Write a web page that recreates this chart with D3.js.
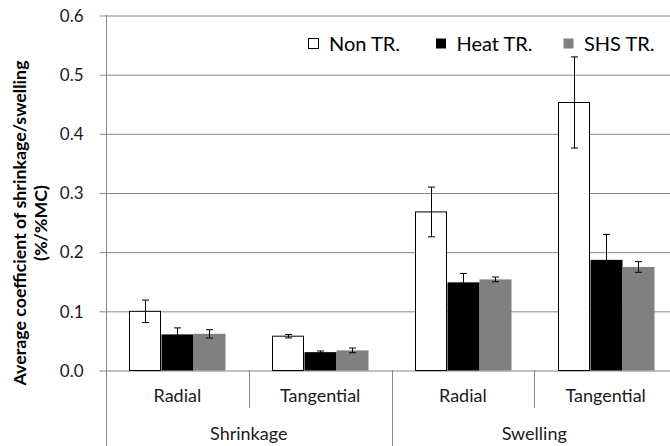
<!DOCTYPE html>
<html>
<head>
<meta charset="utf-8">
<script src="https://cdn.jsdelivr.net/npm/d3@7"></script>
<style>
  html, body { margin: 0; padding: 0; background: #fff; }
  svg { display: block; font-family: Lato, "Open Sans", sans-serif; }
</style>
</head>
<body>
<svg id="chart" width="670" height="446"></svg>
<script>
// Treatment series and the grouped categories
const series = ["Non TR.", "Heat TR.", "SHS TR."];
const groups = ["Shrinkage", "Swelling"];
const directions = ["Radial", "Tangential"];

// Mean coefficient (%/%MC), one array per treatment, order:
// Shrinkage-Radial, Shrinkage-Tangential, Swelling-Radial, Swelling-Tangential
const nonTR  = [0.100, 0.058, 0.268, 0.453];
const heatTR = [0.061, 0.031, 0.149, 0.187];
const shsTR  = [0.062, 0.034, 0.154, 0.175];

// Standard deviation for the error bars, same order
const nonErr  = [0.019, 0.003, 0.042, 0.077];
const heatErr = [0.011, 0.002, 0.015, 0.043];
const shsErr  = [0.007, 0.004, 0.004, 0.009];

const yTicks = [0, 0.1, 0.2, 0.3, 0.4, 0.5, 0.6];
const yTitle = ["Average coefficient of shrinkage/swelling", "(%/%MC)"];

const values = [nonTR, heatTR, shsTR];
const errors = [nonErr, heatErr, shsErr];
const fills = ["#ffffff", "#000000", "#808080"];
const strokes = ["#000000", "none", "none"];
const gridColor = "#868686";

const svg = d3.select("#chart");

// Combined category keys: group|direction
const cats = [];
groups.forEach(g => directions.forEach(d => cats.push(g + "|" + d)));

const plotLeft = 106, plotRight = 677, plotTop = 15, plotBottom = 370;

const y = d3.scaleLinear().domain([0, 0.6]).range([plotBottom, plotTop]);
const x0 = d3.scaleBand().domain(cats).range([plotLeft, plotRight]).padding(0);
const x1 = d3.scaleBand().domain(series).range([0, x0.bandwidth()])
  .paddingInner(0).paddingOuter(0.73);

// Gridlines with short outside tick marks
const yAxis = d3.axisLeft(y).tickValues(yTicks).tickSize(-(670 - plotLeft))
  .tickFormat(d3.format(".1f")).tickPadding(0);
const ga = svg.append("g").attr("transform", `translate(${plotLeft + 0.5},0.5)`)
  .call(yAxis);
ga.select(".domain").remove();
ga.selectAll(".tick line").attr("stroke", gridColor).attr("x1", -7);
ga.selectAll(".tick text")
  .attr("x", -23).attr("dy", "0.34em")
  .attr("font-size", 17).attr("fill", "#1a1a1a")
  .attr("font-family", "Lato, sans-serif");

// Vertical axis line continuing down through the category area
svg.append("line")
  .attr("x1", plotLeft + 0.5).attr("x2", plotLeft + 0.5)
  .attr("y1", plotTop).attr("y2", 446)
  .attr("stroke", gridColor);

// Bars
const barG = svg.append("g");
cats.forEach((c, i) => {
  series.forEach((s, j) => {
    const v = values[j][i];
    const bx = x0(c) + x1(s);
    barG.append("rect")
      .attr("x", Math.round(bx) + 0.5)
      .attr("y", y(v) + 0.5)
      .attr("width", x1.bandwidth() - (strokes[j] === "none" ? 0 : 1))
      .attr("height", y(0) - y(v))
      .attr("fill", fills[j])
      .attr("stroke", strokes[j])
      .attr("stroke-width", 1);
  });
});

// Error bars
const errG = svg.append("g").attr("stroke", "#000").attr("stroke-width", 1);
cats.forEach((c, i) => {
  series.forEach((s, j) => {
    const v = values[j][i], e = errors[j][i];
    const cx = Math.round(x0(c) + x1(s) + x1.bandwidth() / 2) + 0.5;
    const yHi = y(v + e) + 0.5, yLo = y(v - e) + 0.5;
    errG.append("line").attr("x1", cx).attr("x2", cx).attr("y1", yHi).attr("y2", yLo);
    errG.append("line").attr("x1", cx - 3.5).attr("x2", cx + 3.5).attr("y1", yHi).attr("y2", yHi);
    errG.append("line").attr("x1", cx - 3.5).attr("x2", cx + 3.5).attr("y1", yLo).attr("y2", yLo);
  });
});

// Category axis: separators and two label tiers
const catG = svg.append("g");
cats.forEach((c, i) => {
  const xEnd = x0(c) + x0.bandwidth();
  const isGroupEnd = (i % directions.length) === directions.length - 1;
  catG.append("line")
    .attr("x1", Math.round(xEnd) + 0.5).attr("x2", Math.round(xEnd) + 0.5)
    .attr("y1", plotBottom).attr("y2", isGroupEnd ? 446 : 408)
    .attr("stroke", gridColor);
  catG.append("text")
    .attr("x", x0(c) + x0.bandwidth() / 2)
    .attr("y", 402)
    .attr("text-anchor", "middle")
    .attr("font-size", 18).attr("fill", "#1a1a1a")
    .text(c.split("|")[1]);
});
groups.forEach((g, k) => {
  const first = x0(g + "|" + directions[0]);
  const last = x0(g + "|" + directions[directions.length - 1]) + x0.bandwidth();
  catG.append("text")
    .attr("x", (first + last) / 2)
    .attr("y", 440)
    .attr("text-anchor", "middle")
    .attr("font-size", 18).attr("fill", "#1a1a1a")
    .text(g);
});

// Y axis title
const tt = svg.append("text")
  .attr("transform", "translate(0,223) rotate(-90)")
  .attr("text-anchor", "middle")
  .attr("font-weight", "bold").attr("font-size", 17.8).attr("fill", "#000");
tt.append("tspan").attr("x", 0).attr("y", 26).text(yTitle[0]);
tt.append("tspan").attr("x", 0).attr("y", 47).text(yTitle[1]);

// Legend
const lx = d3.scalePoint().domain(series).range([308, 563]);
const lg = svg.append("g");
series.forEach((s, j) => {
  lg.append("rect")
    .attr("x", lx(s) + 0.5).attr("y", 38.5)
    .attr("width", 10).attr("height", 10)
    .attr("fill", fills[j])
    .attr("stroke", j === 0 ? "#000" : "none");
  lg.append("text")
    .attr("x", lx(s) + 21).attr("y", 51)
    .attr("font-size", 20).attr("fill", "#000")
    .text(s);
});
</script>
</body>
</html>
